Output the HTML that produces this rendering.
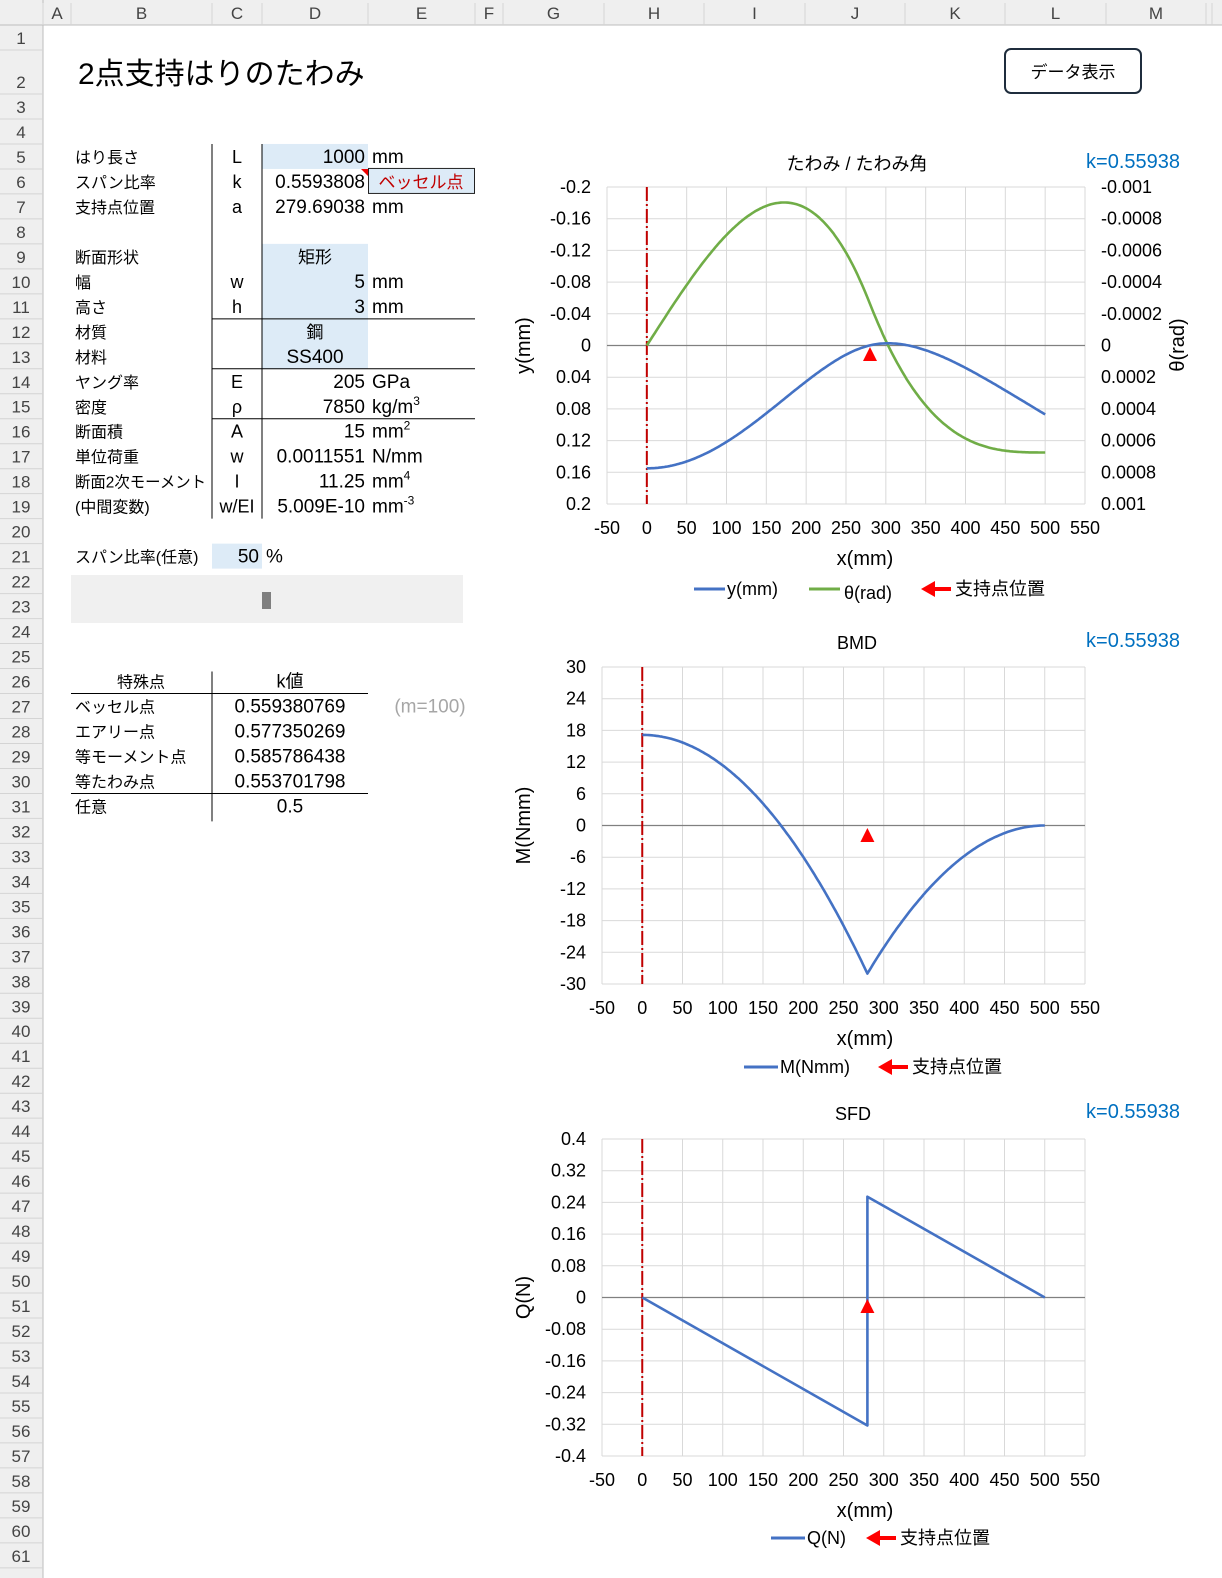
<!DOCTYPE html>
<html><head><meta charset="utf-8">
<style>
html,body{margin:0;padding:0;background:#fff;}
body{width:1222px;height:1578px;position:relative;overflow:hidden;font-family:"Liberation Sans","Noto Sans CJK JP",sans-serif;color:#000;}
</style></head><body>
<svg id="sv" width="1222" height="1578" style="position:absolute;left:0;top:0" xmlns="http://www.w3.org/2000/svg" font-family="Liberation Sans, Noto Sans CJK JP, sans-serif"></svg>
<script>
(function(){
var s='';
function R(x,y,w,h,f,st){s+='<rect x="'+x+'" y="'+y+'" width="'+w+'" height="'+h+'" fill="'+f+'"'+(st?' stroke="'+st+'"':'')+'/>';}
function L(x1,y1,x2,y2,c,w,extra){s+='<line x1="'+x1+'" y1="'+y1+'" x2="'+x2+'" y2="'+y2+'" stroke="'+c+'" stroke-width="'+(w||1)+'" '+(extra||'')+'/>';}
function T(x,y,t,o){o=o||{};s+='<text x="'+x+'" y="'+y+'" font-size="'+(o.fs||17)+'" fill="'+(o.c||'#000')+'" text-anchor="'+(o.a||'start')+'"'+(o.tl?' textLength="'+o.tl+'" lengthAdjust="spacingAndGlyphs"':'')+(o.tr?' transform="'+o.tr+'"':'')+'>'+t+'</text>';}
R(0,0,1222,25,'#efefef');R(0,0,43,1578,'#efefef');
L(0,25,1222,25,'#bdbdbd');L(43,0,43,1578,'#bdbdbd');
var cols=[43,71,212,262,368,475,503,604,704,805,905,1005,1106,1206,1212];
var names='ABCDEFGHIJKLM';
for(var i=0;i<cols.length;i++)L(cols[i],3,cols[i],25,'#d4d4d4');
for(i=0;i<13;i++)T((cols[i]+cols[i+1])/2,19,names[i],{a:'middle',c:'#444'});
function rt(n){if(n==1)return 25;if(n==2)return 50;return 94+(n-3)*24.98;}
for(var n=1;n<=61;n++){var b=rt(n+1);L(0,b,43,b,'#d4d4d4');T(21,b-6,n,{a:'middle',c:'#444'});}
R(262,rt(5),106,25,'#ddebf7');R(262,rt(9),106,rt(14)-rt(9),'#ddebf7');R(212,rt(21),50,25,'#ddebf7');
R(368.5,rt(6)-0.5,106,25,'#ddebf7','#222');
s+='<polygon points="361,'+(rt(6))+' 368,'+rt(6)+' 368,'+(rt(6)+7)+'" fill="#e00"/>';
R(71,575,392,48,'#f0f0f0');R(262,592,9,17,'#7f7f7f');
L(212,rt(5),212,rt(20),'#000');L(262,rt(5),262,rt(20),'#000');
[12,14,16].forEach(function(r){L(212,rt(r),475,rt(r),'#000');});
L(212,rt(26)+3,212,rt(32)+3,'#000');L(71,rt(27),368,rt(27),'#000');L(71,rt(31),368,rt(31),'#000');
function cy(r){return rt(r)+19;}
var F=19,B=16;
var rows=[[5,'はり長さ','L','1000','mm'],[6,'スパン比率','k','0.5593808',''],[7,'支持点位置','a','279.69038','mm'],
[10,'幅','w','5','mm'],[11,'高さ','h','3','mm'],[14,'ヤング率','E','205','GPa'],[15,'密度','ρ','7850','kg/m<tspan font-size="12" dy="-8">3</tspan>'],
[16,'断面積','A','15','mm<tspan font-size="12" dy="-8">2</tspan>'],[17,'単位荷重','w','0.0011551','N/mm'],[18,'断面2次モーメント','I','11.25','mm<tspan font-size="12" dy="-8">4</tspan>'],[19,'(中間変数)','w/EI','5.009E-10','mm<tspan font-size="12" dy="-8">-3</tspan>']];
rows.forEach(function(r){var y=cy(r[0]);T(75,y,r[1],{fs:B,tl:r[0]==18?131:0});T(237,y,r[2],{a:'middle',fs:18});T(365,y,r[3],{a:'end',fs:F});if(r[4])T(372,y,r[4],{fs:F});});
T(75,cy(9),'断面形状',{fs:B});T(315,cy(9),'矩形',{a:'middle'});T(75,cy(12),'材質',{fs:B});T(315,cy(12),'鋼',{a:'middle'});T(75,cy(13),'材料',{fs:B});T(315,cy(13),'SS400',{a:'middle',fs:F});
T(421,cy(6),'ベッセル点',{a:'middle',c:'#c00000'});
T(75,cy(21),'スパン比率(任意)',{fs:B});T(259,cy(21),'50',{a:'end',fs:F});T(266,cy(21),'%',{fs:F});
T(141,cy(26),'特殊点',{a:'middle',fs:B});T(290,cy(26),'k値',{a:'middle',fs:18});
[[27,'ベッセル点','0.559380769'],[28,'エアリー点','0.577350269'],[29,'等モーメント点','0.585786438'],[30,'等たわみ点','0.553701798'],[31,'任意','0.5']].forEach(function(r){T(75,cy(r[0]),r[1],{fs:B});T(290,cy(r[0]),r[2],{a:'middle',fs:F});});
T(430,cy(27),'(m=100)',{a:'middle',c:'#a6a6a6',fs:F});
T(78,84,'2点支持はりのたわみ',{fs:30});
s+='<rect x="1005" y="49" width="136" height="44" rx="6" fill="#fff" stroke="#1f2d3d" stroke-width="2"/>';
T(1073,78,'データ表示',{a:'middle'});
var w=0.0011551,a=279.69,Rr=w*500,M0=17.15,c=4.58e-7;
function M(x){var m=M0-w*x*x/2;if(x>a)m+=Rr*(x-a);return m;}
var N=500,th=[],yv=[],Mi=0,Yi=0;
for(i=0;i<=N;i++){if(i>0){Mi+=(M(i-1)+M(i))/2;}th.push(-c*Mi);}
for(i=0;i<=N;i++){if(i>0)Yi+=(th[i-1]+th[i])/2;yv.push(0.155+0.9*Yi);}
function chart(o){
 var X=function(v){return o.x0+(v+50)*(o.x1-o.x0)/600;};
 var Y=function(v){return o.y0+(v-o.vt)*(o.y1-o.y0)/(o.vb-o.vt);};
 for(var v=-50;v<=550;v+=50){L(X(v),o.y0,X(v),o.y1,'#d9d9d9');T(X(v),o.xl,v,{a:'middle',fs:18});}
 for(var k=0;k<=10;k++){var vv=o.vt+k*(o.vb-o.vt)/10;var yy=Y(vv);L(o.x0,yy,o.x1,yy,'#d9d9d9');T(o.lx,yy+6,o.lf(vv),{a:'end',fs:18});if(o.rf)T(1101,yy+6,o.rf(k),{fs:18});}
 L(o.x0,o.y0,o.x0,o.y1,'#d9d9d9');
 L(o.x0,Y(0),o.x1,Y(0),'#808080',1.2);
 L(X(0),o.y0,X(0),o.y1,'#c00000',2,'stroke-dasharray="14,3,2,3"');
 o.series.forEach(function(sr){var p='';for(var i=0;i<sr.pts.length;i++){p+=(i?'L':'M')+X(sr.pts[i][0]).toFixed(1)+','+sr.Y(sr.pts[i][1]).toFixed(1);}s+='<path d="'+p+'" fill="none" stroke="'+sr.c+'" stroke-width="2.6" stroke-linejoin="round"/>';});
 if(o.tri){var tx=X(279.7),ty=o.tri;s+='<polygon points="'+(tx-7)+','+(ty+14)+' '+(tx+7)+','+(ty+14)+' '+tx+','+ty+'" fill="#f00"/>';}
 T(o.tc,o.ty,o.title,{a:'middle',fs:18});T(1180,o.ty-2,'k=0.55938',{a:'end',fs:20,c:'#0070c0'});
 T(865,o.xl+31,'x(mm)',{a:'middle',fs:20});
 T(0,0,o.ytitle,{a:'middle',fs:20,tr:'translate(530,'+((o.y0+o.y1)/2)+') rotate(-90)'});
 o.Y=Y;return o;}
function fmt(v){v=Math.round(v*1e6)/1e6;return (''+v);}
var c1=chart({x0:607,x1:1085,y0:187,y1:504,vt:-0.2,vb:0.2,xl:534,lx:591,tc:857,ty:170,title:'たわみ / たわみ角',ytitle:'y(mm)',tri:0,lf:fmt,
 rf:function(k){return fmt(-0.001+k*0.0002);},series:[]});
(function(){var X=function(v){return 607+(v+50)*478/600;};var Yl=c1.Y;var Yr=function(v){return 187+(v+0.001)*317/0.002;};
var d='';for(var i=0;i<=N;i+=2){d+=(i?'L':'M')+X(i).toFixed(1)+','+Yr(th[i]).toFixed(1);}s+='<path d="'+d+'" fill="none" stroke="#70ad47" stroke-width="2.6"/>';
d='';for(i=0;i<=N;i+=2){d+=(i?'L':'M')+X(i).toFixed(1)+','+Yl(yv[i]).toFixed(1);}s+='<path d="'+d+'" fill="none" stroke="#4472c4" stroke-width="2.6"/>';})();
s+='<polygon points="863,361 877,361 870,347" fill="#f00"/>';
T(0,0,'θ(rad)',{a:'middle',fs:20,tr:'translate(1184,345) rotate(-90)'});
var pm=[];for(i=0;i<=500;i+=2){pm.push([i,M(i)]);}pm.splice(140,0,[a,M(a)]);
chart({x0:602,x1:1085,y0:667,y1:984,vt:30,vb:-30,xl:1014,lx:586,tc:857,ty:649,title:'BMD',ytitle:'M(Nmm)',tri:828,lf:function(v){return Math.round(v);},
 series:[{c:'#4472c4',pts:pm,Y:function(v){return 667+(30-v)*317/60;}}]});
chart({x0:602,x1:1085,y0:1139,y1:1456,vt:0.4,vb:-0.4,xl:1486,lx:586,tc:853,ty:1120,title:'SFD',ytitle:'Q(N)',tri:1299,lf:fmt,
 series:[{c:'#4472c4',pts:[[0,0],[a,-w*a],[a,Rr-w*a],[500,0]],Y:function(v){return 1139+(0.4-v)*317/0.8;}}]});
function arrow(x,y){s+='<polygon points="'+x+','+y+' '+(x+14)+','+(y-8)+' '+(x+14)+','+(y-2)+' '+(x+30)+','+(y-2)+' '+(x+30)+','+(y+2)+' '+(x+14)+','+(y+2)+' '+(x+14)+','+(y+8)+'" fill="#f00"/>';}
L(694,589,725,589,'#4472c4',3);T(727,595,'y(mm)',{fs:18});L(809,589,840,589,'#70ad47',3);T(844,599,'θ(rad)',{fs:18});arrow(921,589);T(955,595,'支持点位置',{fs:18});
L(744,1067,778,1067,'#4472c4',3);T(780,1073,'M(Nmm)',{fs:18});arrow(878,1067);T(912,1073,'支持点位置',{fs:18});
L(771,1538,805,1538,'#4472c4',3);T(807,1544,'Q(N)',{fs:18});arrow(866,1538);T(900,1544,'支持点位置',{fs:18});
document.getElementById('sv').innerHTML=s;
})();
</script>
</body></html>
